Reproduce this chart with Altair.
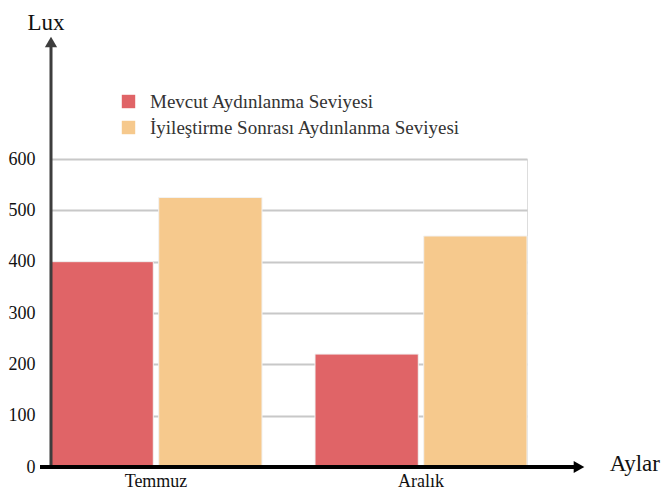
import altair as alt
import pandas as pd

months = ["Temmuz", "Aralık"]
series = ["Mevcut Aydınlanma Seviyesi", "İyileştirme Sonrası Aydınlanma Seviyesi"]
mevcut = [400, 220]
iyilestirme = [525, 450]
y_ticks = [0, 100, 200, 300, 400, 500, 600]
colors = ["#E06467", "#F6C98D"]
y_title = "Lux"
x_title = "Aylar"

rows = []
for i, m in enumerate(months):
    rows.append({"month": m, "series": series[0], "value": mevcut[i]})
    rows.append({"month": m, "series": series[1], "value": iyilestirme[i]})
df = pd.DataFrame(rows)

FONT = "Liberation Serif"
W, H = 477, 308

bars = alt.Chart(df).mark_bar(stroke="#f2f2f2", strokeWidth=1).encode(
    x=alt.X("month:N", sort=months,
            scale=alt.Scale(paddingInner=0.2, paddingOuter=0),
            axis=alt.Axis(title=None, labelAngle=0, domain=False, ticks=False,
                          labelFont=FONT, labelFontSize=18, labelColor="#111",
                          labelPadding=5)),
    xOffset=alt.XOffset("series:N", sort=series, scale=alt.Scale(paddingInner=0.05)),
    y=alt.Y("value:Q", scale=alt.Scale(domain=[0, 600]),
            axis=alt.Axis(title=None, values=y_ticks, domain=False, ticks=False,
                          labelFont=FONT, labelFontSize=18, labelColor="#111",
                          labelPadding=15, grid=True, gridColor="#c8c8c8",
                          gridWidth=2)),
    color=alt.Color("series:N", sort=series,
                    scale=alt.Scale(domain=series, range=colors),
                    legend=alt.Legend(title=None, orient="none", legendX=69, legendY=-67,
                                      symbolType="square", symbolSize=180,
                                      symbolStrokeWidth=0, labelFont=FONT,
                                      labelFontSize=19, labelColor="#333",
                                      labelLimit=500, labelOffset=12, rowPadding=6)),
)

one = pd.DataFrame({"k": [0]})

y_line = alt.Chart(one).mark_rule(color="#3d3d3d", strokeWidth=3).encode(
    x=alt.value(1), y=alt.value(H), y2=alt.value(-112))
y_head = alt.Chart(one).mark_point(shape="triangle-up", filled=True, color="#3d3d3d",
                                   size=150, opacity=1).encode(
    x=alt.value(1), y=alt.value(-117))
x_line = alt.Chart(one).mark_rule(color="#000", strokeWidth=4).encode(
    x=alt.value(-10), x2=alt.value(526), y=alt.value(H))
x_head = alt.Chart(one).mark_point(shape="triangle-right", filled=True, color="#000",
                                   size=150, opacity=1).encode(
    x=alt.value(529), y=alt.value(H))

lux = alt.Chart(one).mark_text(font=FONT, fontSize=23, color="#111", align="center",
                               baseline="alphabetic").encode(
    x=alt.value(-4), y=alt.value(-129), text=alt.value(y_title))
aylar = alt.Chart(one).mark_text(font=FONT, fontSize=23, color="#111", align="right",
                                 baseline="alphabetic").encode(
    x=alt.value(W + 133), y=alt.value(H + 4), text=alt.value(x_title))

chart = alt.layer(bars, y_line, y_head, x_line, x_head, lux, aylar).properties(
    width=W, height=H,
    padding={"left": 42, "top": 151, "right": 134, "bottom": 24},
    autosize=alt.AutoSizeParams(type="none"),
).configure_view(stroke=None).configure(background="white")

chart.save("out.html", embed_options={"renderer": "svg", "actions": False})
